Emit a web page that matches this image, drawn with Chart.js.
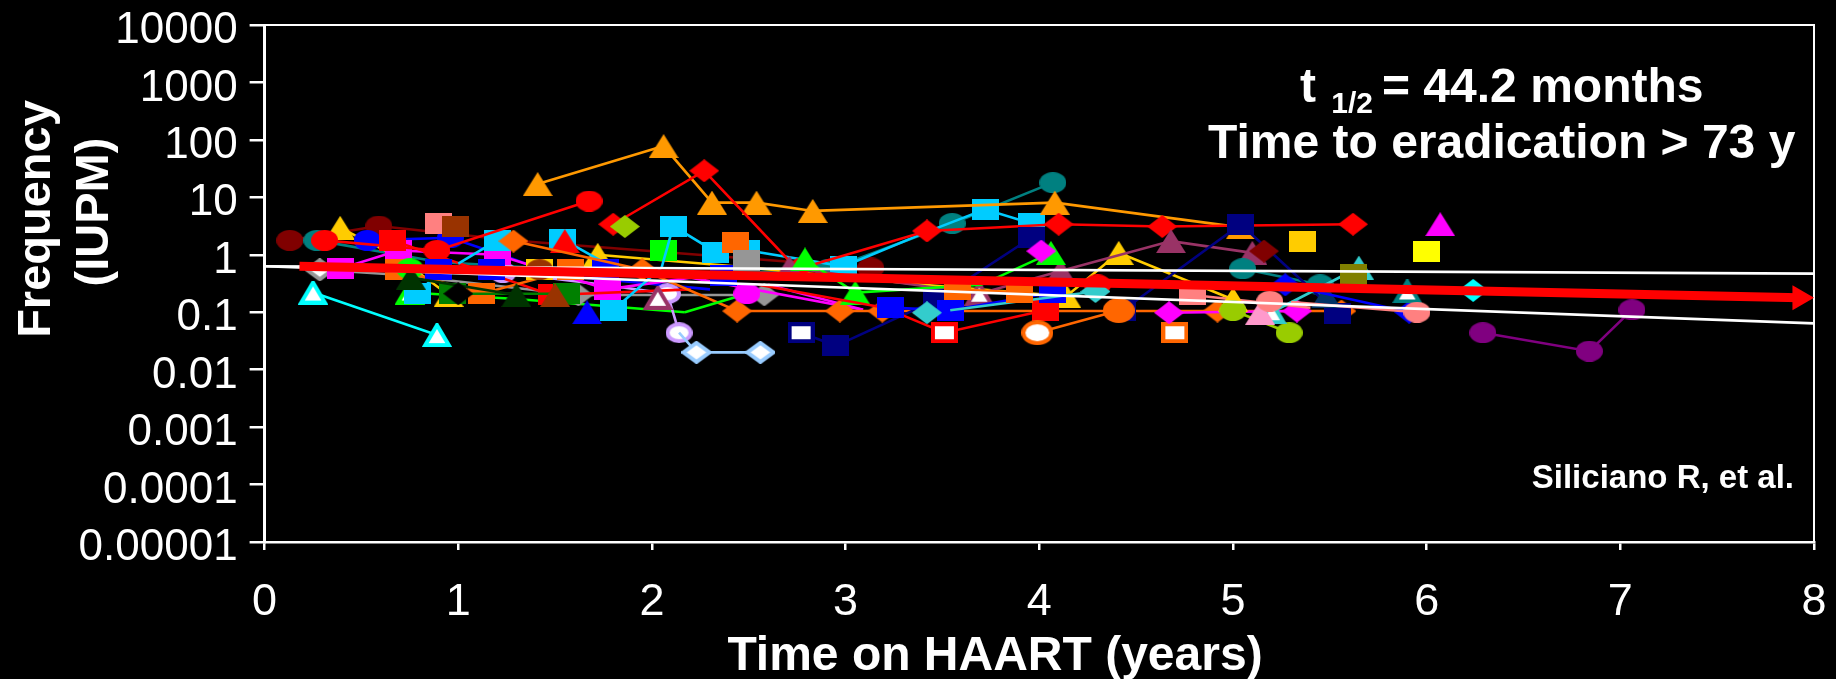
<!DOCTYPE html>
<html><head><meta charset="utf-8">
<style>html,body{margin:0;padding:0;background:#000;overflow:hidden}canvas{display:block}</style>
<script src="https://cdn.jsdelivr.net/npm/chart.js@4/dist/chart.umd.min.js"></script>
</head><body><canvas id="c" width="1836" height="679"></canvas>
<script>
const xTickValues=[0,1,2,3,4,5,6,7,8];
const yTickValues=[0.00001,0.0001,0.001,0.01,0.1,1,10,100,1000,10000];
const yTickLabels=['0.00001','0.0001','0.001','0.01','0.1','1','10','100','1000','10000'];
const xTitle='Time on HAART (years)';
const yTitle=['Frequency','(IUPM)'];

const orangeTri=[[1.41,17],[2.06,78],[2.31,8.1],[2.54,8.1],[2.83,5.8],[4.08,8.1],[5.04,3.0]];
const redDiamond=[[1.80,3.4],[2.27,29],[2.75,0.56],[3.42,2.6],[4.10,3.4],[4.635,3.1],[5.62,3.4]];
const limeDiamond=[[1.86,3.1]];
const redCircle=[[0.31,1.78],[0.89,1.19],[1.675,8.6]];
const maroonCircle=[[0.13,1.78],[0.59,3.16],[1.3,1.75],[3.13,0.59]];
const maroonDiamond=[[5.16,1.16]];
const tealCircle=[[0.27,1.78],[0.9,0.75],[2.0,0.45],[2.91,0.55],[3.55,3.5],[4.07,18]];
const tealCircle2=[[5.05,0.57],[5.45,0.3]];
const goldTri=[[0.39,2.95],[0.68,0.95],[0.95,0.2]];
const goldTri2=[[1.72,1.0],[2.5,0.6],[3.4,0.3],[4.14,0.19],[4.41,1.08],[5.0,0.166]];
const blueCircle=[[0.53,1.78],[0.96,1.98],[1.28,0.85],[1.5,0.45],[2.3,0.25]];
const redSquare=[[0.66,1.78],[1.48,0.2],[2.2,0.25]];
const redLine=[[2.55,0.3],[3.2,0.12]];
const redHollowLine=[[3.2,0.12],[3.51,0.044],[4.03,0.108]];
const pinkSquare=[[0.9,3.5]];
const brownSquare=[[0.986,3.16]];
const cyanSquareA=[[1.0,0.7],[1.2,1.78]];
const cyanSquareA2=[[1.54,1.85],[1.8,0.6]];
const cyanSquareB=[[1.8,0.108],[2.05,0.6],[2.11,3.16],[2.33,1.11],[2.49,1.2],[2.99,0.63],[3.42,2.5],[3.72,6.2],[3.96,3.5]];
const cyanSquareC=[[0.79,0.21],[0.9,0.5]];
const greenSquare=[[2.06,1.2]];
const orangeSquare=[[2.43,1.66]];
const graySquare=[[2.49,0.78]];
const orangeDiamond=[[1.285,1.73],[1.95,0.55],[2.44,0.105],[2.97,0.105],[3.19,0.105],[4.92,0.105],[5.56,0.105]];
const orangeCircle=[[3.99,0.044],[4.41,0.107]];
const orangeHollowSquare=[[4.7,0.044]];
const orangeSquares=[[0.69,0.55],[1.12,0.21],[1.58,0.55]];
const orangeSquares2=[[3.58,0.25],[3.9,0.22]];
const magentaSquare=[[0.39,0.57],[0.69,1.19],[1.2,1.0],[1.77,0.25],[2.2,0.4],[3.09,0.11]];
const magentaCircle=[[2.49,0.21]];
const magentaDiamond=[[4.01,1.16]];
const magentaDiamond2=[[4.67,0.098],[5.33,0.105]];
const magentaLine=[[2.6,0.3],[3.09,0.11]];
const pinkTri=[[5.14,0.098]];
const salmonCircle=[[5.19,0.155]];
const salmonSquare=[[4.79,0.2],[5.4,0.12]];
const salmonCircle2=[[5.3,0.15],[5.95,0.1]];
const limeCircle=[[5.0,0.107],[5.29,0.044]];
const purpleTri=[[2.71,0.6],[3.69,0.21],[4.11,0.52],[4.68,1.73],[5.1,1.08]];
const turquoiseDiamond=[[3.42,0.098]];
const turquoiseLine=[[3.54,0.108],[4.29,0.23]];
const turquoiseTri=[[5.2,0.1],[5.65,0.6]];
const blueSquares=[[3.23,0.12],[3.54,0.108],[4.07,0.22]];
const navySquare=[[2.77,0.044],[2.95,0.026],[3.47,0.166],[3.96,2.0]];
const navySquare2=[[4.43,0.107],[5.04,3.4],[5.54,0.095]];
const greenTri=[[2.79,0.83],[3.05,0.22],[3.7,0.3],[4.06,1.08]];
const greenLine=[[2.17,0.1],[2.49,0.21]];
const greenHollowTri=[[0.75,0.22],[1.3,0.17],[2.17,0.1]];
const greenCircle=[[0.75,0.57]];
const darkGreenSquare=[[0.97,0.21],[1.56,0.21]];
const darkTri=[[0.755,0.4],[1.3,0.2]];
const blackDiamond=[[1.0,0.21]];
const brownTri=[[1.5,0.2]];
const grayLine=[[0.285,0.55],[0.69,0.45],[1.62,0.2],[2.58,0.2]];
const blueTri=[[1.665,0.1]];
const cyanHollowTri=[[0.25,0.22],[0.89,0.04]];
const lavenderCircle=[[0.87,0.6],[1.23,0.49],[1.75,0.3],[2.08,0.21],[2.14,0.044]];
const lightBlueDiamond=[[2.14,0.044],[2.23,0.02],[2.56,0.02]];
const purpleHollowTri=[[2.03,0.178]];
const blueSquares2=[[0.9,0.55],[1.17,0.55],[1.76,0.55],[2.37,0.43]];
const goldSquare=[[1.42,0.55]];
const brownCircle=[[1.42,0.55]];
const redTri=[[1.55,1.73]];
const goldSquare2=[[5.36,1.67]];
const magentaTri=[[6.07,3.4]];
const yellowSquare=[[6.0,1.12]];
const oliveSquare=[[5.62,0.455]];
const tealHollowTri=[[5.9,0.23]];
const cyanDiamond=[[6.24,0.24]];
const navyTri=[[5.48,0.19]];
const blueDiamond=[[5.27,0.3],[5.91,0.1]];
const purpleCircle=[[6.29,0.044],[6.84,0.021],[7.06,0.11]];
const redCircle2=[[4.3,0.3]];
const turquoiseDiamond2=[[4.29,0.23]];
const goldTri3=[[5.0,0.166]];

const trendRed=[[0.18,0.63],[7.926,0.178]];
const trendUpper=[[0,0.63],[8,0.47]];
const trendLower=[[0,0.63],[8,0.064]];

/* drawn back to front: [points, marker, colour, hollow point indexes, unmarked point indexes] */
const seriesTable=[
 [maroonCircle,'circle','#800000',[],[2]],[tealCircle,'circle','#008080',[],[1,2]],[goldTri,'tri','#FFCC00',[],[1]],
 [goldTri2,'tri','#FFCC00',[],[1,2]],[blueCircle,'circle','#0000FF',[],[2,3,4]],[greenHollowTri,'tri','#00FF00',[0],[1,2]],
 [grayLine,'diamond','#969696',[0],[1]],[lavenderCircle,'circle','#CC99FF',[3,4],[0,2]],[magentaSquare,'square','#FF00FF',[],[4,5]],[magentaLine,'none','#FF00FF'],
 [redSquare,'square','#FF0000',[],[2]],[cyanSquareA,'square','#00CCFF',[],[0]],[cyanSquareA2,'square','#00CCFF',[],[1]],
 [cyanSquareC,'square','#00CCFF',[],[1]],[redCircle,'circle','#FF0000'],[pinkSquare,'square','#FF8080'],
 [brownSquare,'square','#993300'],[orangeSquares,'square','#FF6600'],[blueSquares2,'square','#0000FF'],
 [goldSquare,'square','#FFCC00'],[brownCircle,'circle','#993300'],[greenCircle,'circle','#00FF00'],
 [darkGreenSquare,'square','#008000'],[darkTri,'tri','#003300'],[blackDiamond,'diamond','#000000'],
 [brownTri,'tri','#993300'],[redTri,'tri','#FF0000'],[orangeDiamond,'diamond','#FF6600'],
 [cyanHollowTri,'tri','#00FFFF',[0,1]],
 [lightBlueDiamond,'diamond','#99CCFF',[1,2],[0]],[purpleHollowTri,'tri','#993366',[0]],
 [blueTri,'tri','#0000FF'],[greenSquare,'square','#00FF00'],[cyanSquareB,'square','#00CCFF',[],[1,6]],
 [greenLine,'none','#00FF00'],[magentaCircle,'circle','#FF00FF'],[orangeSquare,'square','#FF6600'],
 [graySquare,'square','#969696'],[orangeTri,'tri','#FF9900'],[redDiamond,'diamond','#FF0000'],
 [limeDiamond,'diamond','#99CC00'],
 [purpleTri,'tri','#993366',[1]],[greenTri,'tri','#00FF00',[],[2]],[tealCircle2,'circle','#008080'],
 [navySquare,'square','#000080',[0]],[navySquare2,'square','#000080'],[redLine,'none','#FF0000'],[redHollowLine,'square','#FF0000',[1],[0]],[blueSquares,'square','#0000FF'],
 [turquoiseLine,'none','#33CCCC'],[turquoiseDiamond,'diamond','#33CCCC'],[orangeSquares2,'square','#FF6600'],
 [redCircle2,'circle','#FF0000'],[turquoiseDiamond2,'diamond','#33CCCC'],
 [orangeCircle,'bigcircle','#FF6600',[0]],[orangeHollowSquare,'square','#FF6600',[0]],
 [magentaDiamond,'diamond','#FF00FF'],[magentaDiamond2,'diamond','#FF00FF'],[salmonSquare,'square','#FF8080',[],[1]],
 [maroonDiamond,'diamond','#800000'],[goldTri3,'tri','#FFCC00'],[limeCircle,'circle','#99CC00'],
 [turquoiseTri,'tri','#33CCCC',[0]],[pinkTri,'tri','#FF99CC'],[salmonCircle,'circle','#FF8080'],
 [goldSquare2,'square','#FFCC00'],[oliveSquare,'square','#808000'],[navyTri,'tri','#003366'],
 [blueDiamond,'diamond','#0000FF'],[tealHollowTri,'tri','#008080',[0]],[salmonCircle2,'circle','#FF8080',[],[0]],
 [magentaTri,'tri','#FF00FF'],[yellowSquare,'square','#FFFF00'],[cyanDiamond,'diamond','#00FFFF'],
 [purpleCircle,'circle','#800080']
];

function marker(kind,colour,hollow){
  const s={square:[27,21],circle:[27,21],bigcircle:[32,25],diamond:[30,23],tri:[30,24]}[kind];
  const cv=document.createElement('canvas');cv.width=s[0];cv.height=s[1];
  const g=cv.getContext('2d'),w=s[0],h=s[1],i=hollow?2:0;
  g.beginPath();
  if(kind==='square')g.rect(i,i,w-2*i,h-2*i);
  if(kind==='circle'||kind==='bigcircle')g.ellipse(w/2,h/2,w/2-i,h/2-i,0,0,Math.PI*2);
  if(kind==='diamond'){g.moveTo(w/2,i);g.lineTo(w-i,h/2);g.lineTo(w/2,h-i);g.lineTo(i,h/2);g.closePath();}
  if(kind==='tri'){g.moveTo(w/2,i);g.lineTo(w-i*1.6,h-i);g.lineTo(i*1.6,h-i);g.closePath();}
  g.fillStyle=hollow?'#FFFFFF':colour;g.fill();
  if(hollow){g.strokeStyle=colour;g.lineWidth=4;g.lineJoin='miter';g.stroke();}
  return cv;
}
const toPts=a=>a.map(p=>({x:p[0],y:p[1]}));
const dataPoints=seriesTable.map(([pts,kind,colour,hollow,bare])=>({
  type:'scatter',showLine:true,data:toPts(pts),borderColor:colour,borderWidth:2.6,tension:0,
  pointRadius:pts.map((_,i)=>(kind==='none'||(bare||[]).includes(i))?0:10),pointHoverRadius:0,clip:false,
  pointStyle:kind==='none'?'circle':pts.map((_,i)=>marker(kind,colour,(hollow||[]).includes(i))),
  pointBackgroundColor:colour,pointBorderColor:colour
}));
const trend=(pts,colour,width,extra)=>Object.assign({type:'scatter',showLine:true,data:toPts(pts),borderColor:colour,borderWidth:width,pointRadius:0,clip:false,tension:0},extra||{});
const datasets=[
  trend(trendRed,'#FF0000',9,{pointRadius:[0,14.4],pointStyle:'triangle',pointRotation:[0,90],pointBackgroundColor:'#FF0000',pointBorderColor:'#FF0000',pointBorderWidth:0}),
  trend(trendUpper,'#FFFFFF',2.6),
  trend(trendLower,'#FFFFFF',2.6),
  ...dataPoints.reverse()
];

const FONT='"Liberation Sans", Arial, sans-serif';
const notes={
  id:'notes',
  beforeDatasetsDraw(ch){
    const g=ch.ctx,a=ch.chartArea;g.save();g.strokeStyle='#FFF';g.lineWidth=2;
    g.beginPath();g.moveTo(a.left,a.top);g.lineTo(a.right,a.top);g.lineTo(a.right,a.bottom);g.stroke();g.restore();
  },
  afterDraw(ch){
    const g=ch.ctx;g.save();g.fillStyle='#FFF';g.textBaseline='alphabetic';g.textAlign='left';
    let x=1300,y=102;
    g.font='bold 48px '+FONT;g.fillText('t ',x,y);x+=g.measureText('t ').width;
    g.font='bold 30px '+FONT;g.fillText('1/2',x+2,y+11);x=1382;
    g.font='bold 48px '+FONT;g.fillText('= 44.2 months',x,y);
    g.fillText('Time to eradication > 73 y',1208,158);
    g.font='bold 33px '+FONT;g.textAlign='right';g.fillText('Siliciano R, et al.',1794,488);
    g.font='bold 48px '+FONT;g.textAlign='center';g.fillText(xTitle,995,670);
    g.font='bold 47px '+FONT;
    [[yTitle[0],50,219],[yTitle[1],108,212]].forEach(([t,bx,cy])=>{
      g.save();g.translate(bx,cy);g.rotate(-Math.PI/2);g.fillText(t,0,0);g.restore();
    });
    g.restore();
  }
};
const noPad=s=>{s.paddingLeft=0;s.paddingRight=0;s.paddingTop=0;s.paddingBottom=0;};
new Chart(document.getElementById('c'),{
  type:'scatter',
  data:{datasets},
  plugins:[notes],
  options:{
    responsive:false,animation:false,events:[],
    layout:{padding:{top:25,right:22,left:0,bottom:0}},
    plugins:{legend:{display:false},tooltip:{enabled:false}},
    scales:{
      x:{type:'linear',min:0,max:8,
        afterBuildTicks(s){s.ticks=xTickValues.map(v=>({value:v}));},
        afterFit(s){s.height=137;noPad(s);},
        border:{color:'#FFF',width:2.5},
        grid:{drawOnChartArea:false,drawTicks:true,color:'#FFF',lineWidth:2.5,tickLength:8},
        ticks:{color:'#FFF',font:{family:FONT,size:45},padding:26,maxRotation:0,autoSkip:false,callback:v=>String(v)}
      },
      y:{type:'logarithmic',min:0.00001,max:10000,
        afterBuildTicks(s){s.ticks=yTickValues.map(v=>({value:v,major:true}));},
        afterFit(s){s.width=264.6;noPad(s);},
        border:{color:'#FFF',width:3},
        grid:{drawOnChartArea:false,drawTicks:true,color:'#FFF',lineWidth:2.5,tickLength:15},
        ticks:{color:'#FFF',font:{family:FONT,size:44},padding:12,autoSkip:false,labelOffset:6,
          callback(v){return yTickLabels[Math.round(Math.log10(v))+5];}}
      }
    }
  }
});
</script></body></html>
